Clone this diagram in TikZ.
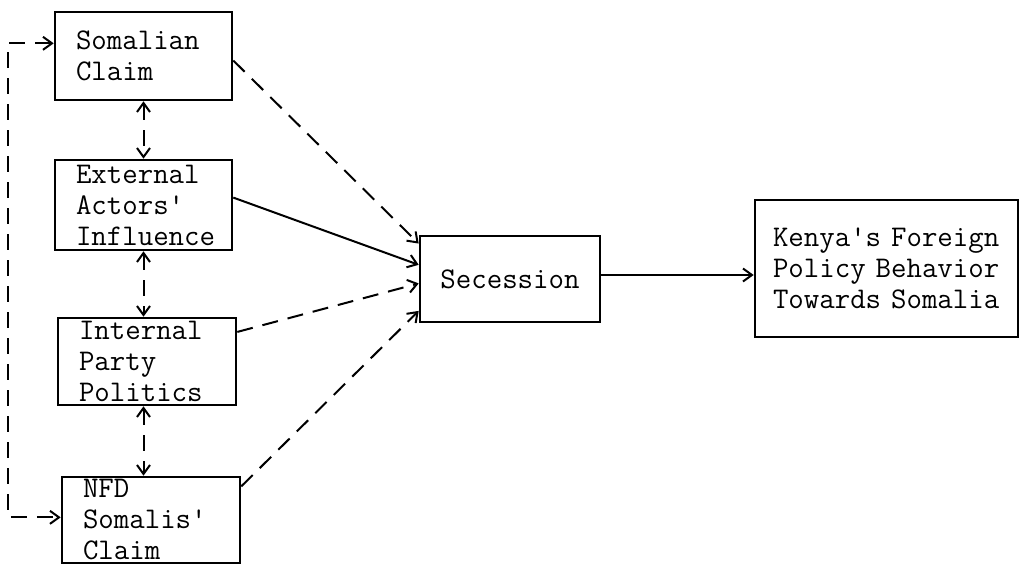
\documentclass[tikz,border=0pt]{standalone}
\usepackage{fontspec}
\usetikzlibrary{arrows.meta,calc}
\DeclareRobustCommand\boxfont{\ttfamily\fontsize{30}{31}\selectfont\spaceskip=.525em\relax}
\begin{document}
\begin{tikzpicture}[x=1pt,y=-1pt,
  box/.style={draw,line width=2.6pt,font=\boxfont,inner ysep=0pt,anchor=center},
  lbox/.style={box,align=left,inner xsep=21pt,text width=#1},
  tip/.style={-{Straight Barb[length=9pt,width=13pt,line width=2pt]}},
  dtip/.style={{Straight Barb[length=9pt,width=13pt,line width=2pt]}-{Straight Barb[length=9pt,width=13pt,line width=2pt]}},
  dsh/.style={dash pattern=on 16pt off 10pt},
  con/.style={line width=2pt}]
\useasboundingbox (0,0) rectangle (1021,565);

\node[lbox=135pt,minimum height=88pt] (som) at (143.5,56) {Somalian\\Claim};
\node[lbox=135pt,minimum height=90pt] (ext) at (143.5,205) {External\\Actors'\\Influence};
\node[lbox=136pt,minimum height=87pt] (int) at (147,361.5) {Internal\\Party\\Politics};
\node[lbox=136pt,minimum height=86pt] (nfd) at (151,520) {NFD\\Somalis'\\Claim};
\node[box,minimum width=180pt,minimum height=86pt,align=center] (sec) at (510,279) {Secession};
\node[box,align=left,inner xsep=18pt,text width=227pt,minimum height=137pt] (ken) at (886.5,268.5) {Kenya's Foreign\\Policy Behavior\\Towards Somalia};

% vertical double arrows
\draw[con,dsh,dtip] (som.south) -- (som.south |- ext.north);
\draw[con,dsh,dtip] (som.south |- ext.south) -- (som.south |- int.north);
\draw[con,dsh,dtip] (som.south |- int.south) -- (som.south |- nfd.north);

% left feedback loop
\coordinate (lx) at (8,0);
\coordinate (sa) at ($(som.north west)!0.36!(som.south west)$);
\coordinate (na) at ($(nfd.north west)!0.47!(nfd.south west)$);
\draw[con,dsh,dtip] (sa) -- (sa -| lx) -- (na -| lx) -- (na);

% lines into Secession
\draw[con,dsh,tip] ($(som.north east)!0.55!(som.south east)$) -- ($(sec.north west)!0.1!(sec.south west)$);
\draw[con,tip] ($(ext.north east)!0.42!(ext.south east)$) -- ($(sec.north west)!0.34!(sec.south west)$);
\draw[con,dsh,tip] ($(int.north east)!0.17!(int.south east)$) -- ($(sec.north west)!0.55!(sec.south west)$);
\draw[con,dsh,tip] ($(nfd.north east)!0.12!(nfd.south east)$) -- ($(sec.north west)!0.86!(sec.south west)$);

% Secession to Kenya
\coordinate (ay) at (0,275);
\draw[con,tip] (sec.east |- ay) -- (ken.west |- ay);
\end{tikzpicture}
\end{document}
